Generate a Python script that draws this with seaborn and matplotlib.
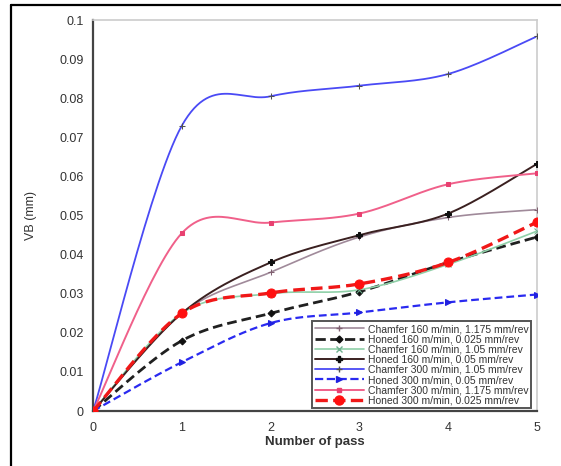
import numpy as np
import matplotlib
matplotlib.use("Agg")
import matplotlib.pyplot as plt
from matplotlib.lines import Line2D
import seaborn as sns

# number of passes on the x axis
passes = [0, 1, 2, 3, 4, 5]

# flank wear VB (mm) per condition
chamfer_160_a = [0, 0.025, 0.0355, 0.0445, 0.0495, 0.0515]
honed_160_a = [0, 0.018, 0.025, 0.0305, 0.038, 0.0445]
chamfer_160_b = [0, 0.025, 0.030, 0.031, 0.0375, 0.046]
honed_160_b = [0, 0.025, 0.038, 0.045, 0.0505, 0.0632]
chamfer_300_a = [0, 0.073, 0.0805, 0.0832, 0.0862, 0.0958]
honed_300_a = [0, 0.0125, 0.0225, 0.0252, 0.0278, 0.0298]
chamfer_300_b = [0, 0.0455, 0.0482, 0.0505, 0.058, 0.0608]
honed_300_b = [0, 0.025, 0.0302, 0.0325, 0.038, 0.0483]

labels = [
    "Chamfer 160 m/min, 1.175 mm/rev",
    "Honed 160 m/min, 0.025 mm/rev",
    "Chamfer 160 m/min, 1.05 mm/rev",
    "Honed 160 m/min, 0.05 mm/rev",
    "Chamfer 300 m/min, 1.05 mm/rev",
    "Honed 300 m/min, 0.05 mm/rev",
    "Chamfer 300 m/min, 1.175 mm/rev",
    "Honed 300 m/min, 0.025 mm/rev",
]
series = [chamfer_160_a, honed_160_a, chamfer_160_b, honed_160_b,
          chamfer_300_a, honed_300_a, chamfer_300_b, honed_300_b]

# (colour, linestyle, linewidth, marker, markersize, markercolor)
styles = [
    ("#a08a9a", "-", 1.2, "+", 5, "#806070"),
    ("#202020", "--", 2.0, "D", 3.5, "#101010"),
    ("#8fd0a8", "-", 1.2, "x", 4, "#70b090"),
    ("#3a2020", "-", 1.4, "P", 5, "#101010"),
    ("#4a4af5", "-", 1.3, "+", 5, "#505050"),
    ("#2a2af0", "--", 1.6, ">", 5, "#2020e0"),
    ("#f0608a", "-", 1.4, "s", 3.5, "#e84070"),
    ("#f01818", "--", 2.4, "o", 6.5, "#ff1010"),
]


def smooth(x, y, n=30):
    # Excel-like smoothed line (Catmull-Rom bezier through the points)
    x = np.asarray(x, float)
    y = np.asarray(y, float)
    px = np.concatenate([[x[0]], x, [x[-1]]])
    py = np.concatenate([[y[0]], y, [y[-1]]])
    xs, ys = [], []
    t = np.linspace(0, 1, n)
    for i in range(1, len(px) - 2):
        p0, p1, p2, p3 = (np.array([px[j], py[j]]) for j in (i - 1, i, i + 1, i + 2))
        c1 = p1 + (p2 - p0) / 6
        c2 = p2 - (p3 - p1) / 6
        b = ((1 - t) ** 3)[:, None] * p1 + (3 * (1 - t) ** 2 * t)[:, None] * c1 \
            + (3 * (1 - t) * t ** 2)[:, None] * c2 + (t ** 3)[:, None] * p2
        xs.extend(b[:, 0])
        ys.extend(b[:, 1])
    return np.array(xs), np.array(ys)


sns.set_theme(style="white")
plt.rcParams["font.family"] = ["Liberation Sans", "DejaVu Sans"]

fig = plt.figure(figsize=(5.61, 4.66), dpi=100)
ax = fig.add_axes([0.166, 0.118, 0.791, 0.839])

handles = []
for vals, lab, (c, ls, lw, m, ms, mc) in zip(series, labels, styles):
    sx, sy = smooth(passes, vals)
    ax.plot(sx, sy, color=c, linestyle=ls, linewidth=lw,
            dashes=(3.5, 1.8) if ls == "--" else (None, None), zorder=2)
    sns.lineplot(x=passes, y=vals, ax=ax, linestyle="", marker=m,
                 markersize=ms, color=mc, markeredgecolor=mc, zorder=3)
    handles.append(Line2D([], [], color=c, linestyle=ls, linewidth=lw,
                          marker=m, markersize=ms, markerfacecolor=mc,
                          markeredgecolor=mc))

ax.set_xlim(0, 5)
ax.set_ylim(0, 0.1)
ax.set_xticks(passes)
ax.set_yticks(np.arange(0, 0.101, 0.01))
ax.set_yticklabels(["0", "0.01", "0.02", "0.03", "0.04", "0.05",
                    "0.06", "0.07", "0.08", "0.09", "0.1"])
ax.tick_params(axis="both", direction="out", length=4, width=1,
               color="#333333", labelsize=9, labelcolor="#333333", pad=3)
ax.tick_params(axis="x", pad=4)

for s in ["left", "bottom"]:
    ax.spines[s].set_color("#444444")
    ax.spines[s].set_linewidth(1.6)
for s in ["top", "right"]:
    ax.spines[s].set_color("#cccccc")
    ax.spines[s].set_linewidth(1.2)

ax.set_xlabel("Number of pass", fontsize=9.5, fontweight="bold",
              color="#333333", labelpad=1)
ax.set_ylabel("VB (mm)", fontsize=9, color="#333333", labelpad=16)

leg = ax.legend(handles, labels, loc="lower right",
                bbox_to_anchor=(0.999, -0.006), fontsize=7.5,
                handlelength=4.7, handletextpad=0.4, labelspacing=0.02,
                borderpad=0.25, frameon=True, fancybox=False,
                edgecolor="#555555", framealpha=1)
leg.get_frame().set_linewidth(1.4)
for t in leg.get_texts():
    t.set_color("#333333")

# outer frame around the picture
fig.add_artist(Line2D([11 / 561, 11 / 561], [0, 1 - 5 / 466], color="black", lw=1.6))
fig.add_artist(Line2D([11 / 561, 1], [1 - 5 / 466, 1 - 5 / 466], color="black", lw=1.6))

fig.savefig("out.png", dpi=100)
